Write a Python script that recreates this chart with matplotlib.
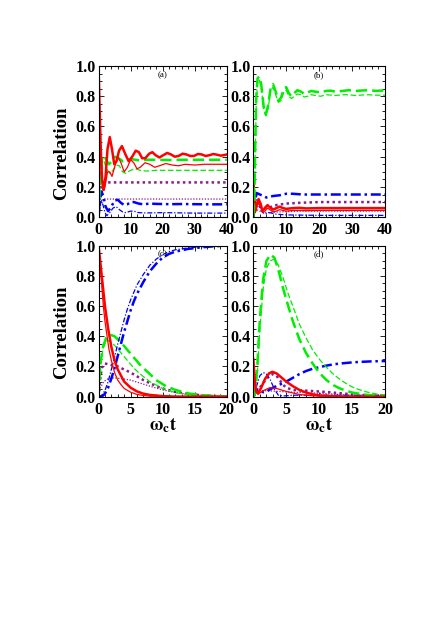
import matplotlib
matplotlib.use("Agg")
import matplotlib.pyplot as plt
from matplotlib.ticker import MultipleLocator

plt.rcParams['font.family'] = ['Liberation Serif', 'DejaVu Serif']
plt.rcParams['mathtext.fontset'] = 'stix'

RED = '#ff0000'
GREEN = '#00ee00'
PURPLE = '#8b1a8b'
BLUE = '#0000ff'

# ---- panel (a): t in [0, 40]
a_red_thick_t = [0, 0.3, 0.7, 1.1, 1.6, 2.2, 2.8, 3.5, 4.2, 4.9, 5.6, 6.4, 7.3, 8.3, 9.4, 10.5, 11.6, 12.6, 13.6,
                 14.6, 15.8, 16.8, 17.8, 19, 20.2, 21.4, 22.6, 23.8, 25, 26.2, 27.4, 28.6, 29.8, 31, 32.2, 33.4,
                 34.6, 35.8, 37, 38.2, 39.4, 40]
a_red_thick = [1.0, 0.75, 0.45, 0.25, 0.18, 0.27, 0.45, 0.53, 0.45, 0.35, 0.37, 0.44, 0.47, 0.42, 0.37, 0.40, 0.44,
               0.43, 0.39, 0.39, 0.42, 0.43, 0.41, 0.395, 0.41, 0.425, 0.415, 0.40, 0.405, 0.42, 0.415, 0.405,
               0.405, 0.418, 0.415, 0.405, 0.41, 0.418, 0.413, 0.407, 0.412, 0.415]
a_red_thin_t = [0, 0.4, 0.8, 1.3, 2, 2.8, 3.5, 4.2, 5, 6, 7, 8, 9, 10, 11, 12, 13, 14.5, 16, 17.5, 19, 21, 23, 25,
                27, 30, 33, 36, 40]
a_red_thin = [1.0, 0.6, 0.3, 0.18, 0.2, 0.3, 0.3, 0.27, 0.33, 0.40, 0.36, 0.30, 0.33, 0.38, 0.36, 0.32, 0.33, 0.36,
              0.35, 0.33, 0.34, 0.355, 0.345, 0.34, 0.35, 0.345, 0.35, 0.35, 0.35]
a_green_thick_t = [0, 0.3, 0.7, 1.2, 1.7, 2.4, 3.2, 4.2, 5.2, 6.3, 7.5, 8.7, 10, 11.5, 13, 15, 18, 22, 26, 30, 35, 40]
a_green_thick = [0, 0.15, 0.32, 0.40, 0.41, 0.38, 0.35, 0.37, 0.40, 0.39, 0.37, 0.375, 0.385, 0.38, 0.375, 0.38,
                 0.38, 0.378, 0.38, 0.38, 0.38, 0.38]
a_green_thin_t = [0, 0.3, 0.7, 1.2, 1.7, 2.5, 3.5, 4.5, 5.5, 6.5, 7.5, 8.5, 10, 11.5, 13, 15, 18, 22, 26, 30, 35, 40]
a_green_thin = [0, 0.12, 0.28, 0.36, 0.37, 0.32, 0.29, 0.31, 0.345, 0.34, 0.30, 0.29, 0.31, 0.32, 0.31, 0.305,
                0.31, 0.31, 0.31, 0.31, 0.31, 0.31]
a_purple_thick_t = [0, 0.3, 0.7, 1.2, 2, 40]
a_purple_thick = [0, 0.1, 0.2, 0.225, 0.23, 0.23]
a_purple_thin_t = [0, 0.4, 0.9, 1.5, 40]
a_purple_thin = [0, 0.06, 0.11, 0.12, 0.12]
a_blue_thick_t = [0, 0.4, 0.9, 1.5, 2.2, 3, 4, 5, 6, 7, 8, 9, 10, 11, 12.5, 14, 16, 18, 22, 26, 30, 35, 40]
a_blue_thick = [0, 0.1, 0.17, 0.14, 0.07, 0.04, 0.07, 0.11, 0.115, 0.095, 0.08, 0.085, 0.1, 0.1, 0.09, 0.085,
                0.09, 0.088, 0.086, 0.087, 0.086, 0.085, 0.085]
a_blue_thin_t = [0, 0.4, 0.9, 1.4, 2, 2.6, 3.5, 4.5, 5.5, 6.5, 7.5, 8.5, 10, 11, 12.5, 15, 20, 30, 40]
a_blue_thin = [0, 0.07, 0.11, 0.08, 0.03, 0.01, 0.03, 0.06, 0.07, 0.05, 0.035, 0.03, 0.04, 0.04, 0.03, 0.028,
               0.03, 0.027, 0.027]

# ---- panel (b): t in [0, 40]
b_green_t = [0, 0.3, 0.6, 0.9, 1.3, 1.8, 2.4, 3.2, 3.8, 4.5, 5.3, 6.0, 6.8, 7.6, 8.4, 9.3, 10, 10.8, 11.6, 12.4,
             13.4, 14.5, 15.5, 16.5, 17.5, 19, 20.5, 22, 23.5, 25, 27, 29, 31, 33, 35, 37, 40]
b_green_thick = [0, 0.1, 0.5, 0.8, 0.92, 0.93, 0.88, 0.72, 0.68, 0.74, 0.86, 0.88, 0.83, 0.77, 0.79, 0.85, 0.86,
                 0.82, 0.80, 0.82, 0.84, 0.83, 0.815, 0.825, 0.835, 0.83, 0.825, 0.835, 0.837, 0.83, 0.835, 0.84,
                 0.835, 0.838, 0.84, 0.836, 0.838]
b_green_thin = [0, 0.08, 0.45, 0.76, 0.89, 0.91, 0.86, 0.71, 0.67, 0.72, 0.84, 0.86, 0.81, 0.76, 0.77, 0.83, 0.84,
                0.80, 0.785, 0.80, 0.815, 0.81, 0.795, 0.80, 0.81, 0.805, 0.80, 0.81, 0.808, 0.805, 0.81, 0.81,
                0.805, 0.808, 0.81, 0.807, 0.807]
b_red_t = [0, 0.3, 0.6, 1, 1.6, 2.2, 2.8, 3.5, 4.3, 5, 6, 7, 8, 9, 10, 12, 14, 16, 20, 25, 30, 40]
b_red_thick = [0.25, 0.12, 0.05, 0.08, 0.12, 0.09, 0.04, 0.06, 0.08, 0.065, 0.05, 0.06, 0.07, 0.06, 0.055, 0.06,
               0.062, 0.058, 0.06, 0.06, 0.06, 0.06]
b_red_thin = [0.25, 0.1, 0.03, 0.06, 0.1, 0.07, 0.03, 0.04, 0.06, 0.05, 0.035, 0.04, 0.05, 0.045, 0.04, 0.045,
              0.045, 0.043, 0.045, 0.045, 0.045, 0.045]
b_blue_thick_t = [0, 0.5, 1, 2, 3, 4, 5, 6, 8, 10, 12, 15, 20, 25, 30, 35, 40]
b_blue_thick = [0, 0.1, 0.16, 0.15, 0.14, 0.13, 0.135, 0.14, 0.145, 0.155, 0.155, 0.15, 0.15, 0.15, 0.15, 0.15,
                0.15]
b_blue_thin_t = [0, 0.5, 1, 1.5, 2.5, 3.5, 5, 7, 10, 20, 40]
b_blue_thin = [0, 0.08, 0.12, 0.1, 0.04, 0.02, 0.03, 0.02, 0.015, 0.012, 0.012]
b_purple_thick_t = [0, 0.5, 1, 2, 3, 5, 7, 10, 14, 20, 30, 40]
b_purple_thick = [0, 0.06, 0.09, 0.07, 0.06, 0.065, 0.08, 0.09, 0.095, 0.1, 0.1, 0.1]
b_purple_thin_t = [0, 0.5, 1, 2, 4, 8, 15, 25, 40]
b_purple_thin = [0, 0.03, 0.05, 0.04, 0.03, 0.035, 0.04, 0.04, 0.04]

# ---- panel (c): t in [0, 20]
c_red_thin_t = [0, 0.25, 0.5, 0.75, 1, 1.3, 1.6, 2, 2.5, 3, 3.5, 4, 5, 6, 7, 8, 10, 12, 20]
c_red_thin = [1.0, 0.88, 0.74, 0.6, 0.5, 0.41, 0.32, 0.24, 0.16, 0.11, 0.08, 0.055, 0.03, 0.015, 0.008, 0.004,
              0.001, 0, 0]
c_red_thick_t = [0, 0.5, 1, 1.5, 2, 2.5, 3, 4, 5, 6, 7, 8, 10, 12, 20]
c_red_thick = [1.0, 0.8, 0.6, 0.45, 0.33, 0.24, 0.18, 0.1, 0.06, 0.035, 0.02, 0.012, 0.004, 0.001, 0]
c_blue_t = [0, 0.5, 1, 1.5, 2, 2.5, 3, 3.5, 4, 4.5, 5, 5.5, 6, 7, 8, 9, 10, 11, 12, 14, 16, 18, 20]
c_blue_thick = [0, 0.0, 0.02, 0.06, 0.12, 0.19, 0.27, 0.35, 0.43, 0.5, 0.57, 0.63, 0.68, 0.76, 0.83, 0.88, 0.92,
                0.945, 0.96, 0.978, 0.988, 0.995, 1.0]
c_blue_thin = [0, 0.01, 0.04, 0.1, 0.18, 0.26, 0.35, 0.43, 0.51, 0.58, 0.64, 0.69, 0.74, 0.81, 0.87, 0.91, 0.94,
               0.96, 0.972, 0.985, 0.992, 0.997, 1.0]
c_green_thick_t = [0, 0.3, 0.7, 1.2, 1.8, 2.5, 3.5, 4.5, 5.5, 6.5, 7.5, 9, 10.5, 12, 14, 16, 18, 20]
c_green_thick = [0, 0.22, 0.33, 0.39, 0.41, 0.4, 0.36, 0.31, 0.26, 0.21, 0.17, 0.11, 0.07, 0.045, 0.022, 0.011,
                 0.005, 0.002]
c_green_thin_t = [0, 0.3, 0.7, 1.2, 1.7, 2.5, 3.5, 4.5, 5.5, 6.5, 8, 10, 12, 14, 16, 18, 20]
c_green_thin = [0, 0.2, 0.32, 0.37, 0.37, 0.34, 0.29, 0.24, 0.19, 0.15, 0.1, 0.055, 0.028, 0.013, 0.006, 0.003,
                0.001]
c_purple_thick_t = [0, 0.2, 0.5, 1, 2, 3, 4, 5, 6, 7, 8, 9, 10, 12, 14, 16, 18, 20]
c_purple_thick = [0, 0.1, 0.19, 0.22, 0.21, 0.2, 0.18, 0.16, 0.135, 0.11, 0.09, 0.07, 0.055, 0.032, 0.018, 0.01,
                  0.005, 0.003]
c_purple_thin_t = [0, 0.3, 0.8, 1.5, 2.5, 3.5, 5, 6.5, 8, 10, 12, 14, 16, 18, 20]
c_purple_thin = [0, 0.06, 0.1, 0.12, 0.125, 0.12, 0.11, 0.09, 0.07, 0.045, 0.028, 0.016, 0.009, 0.005, 0.003]

# ---- panel (d): t in [0, 20]
d_green_t = [0, 0.3, 0.6, 1, 1.5, 2, 2.6, 3.2, 3.8, 4.5, 5.3, 6, 7, 8, 9, 10, 11, 12, 13, 14, 15, 16, 17, 18, 19,
             20]
d_green_thick = [0, 0.03, 0.2, 0.52, 0.78, 0.9, 0.94, 0.92, 0.84, 0.72, 0.6, 0.5, 0.38, 0.29, 0.22, 0.16, 0.115,
                 0.08, 0.058, 0.04, 0.028, 0.02, 0.014, 0.009, 0.006, 0.004]
d_green_thin = [0, 0.02, 0.15, 0.45, 0.72, 0.85, 0.9, 0.91, 0.87, 0.79, 0.68, 0.6, 0.48, 0.39, 0.31, 0.25, 0.2,
                0.155, 0.12, 0.09, 0.065, 0.048, 0.034, 0.024, 0.016, 0.012]
d_blue_thick_t = [0, 0.5, 1, 1.5, 2, 3, 4, 5, 6, 7, 8, 9, 10, 11, 12, 13, 14, 15, 16, 17, 18, 19, 20]
d_blue_thick = [0, 0.05, 0.04, 0.03, 0.035, 0.06, 0.08, 0.1, 0.125, 0.15, 0.17, 0.185, 0.195, 0.205, 0.213, 0.219,
                0.223, 0.227, 0.23, 0.232, 0.234, 0.235, 0.236]
d_blue_thin_t = [0, 0.5, 1, 1.5, 2, 2.6, 3.2, 3.8, 4.5, 6, 8, 20]
d_blue_thin = [0, 0.07, 0.14, 0.16, 0.15, 0.11, 0.05, 0.01, 0.005, 0.01, 0.01, 0.01]
d_red_thick_t = [0, 0.2, 0.4, 0.7, 1.2, 1.8, 2.4, 2.9, 3.5, 4.2, 5, 6, 7, 8, 9, 10, 12, 14, 20]
d_red_thick = [0.25, 0.12, 0.04, 0.02, 0.06, 0.12, 0.155, 0.165, 0.155, 0.13, 0.1, 0.07, 0.045, 0.028, 0.016,
               0.009, 0.003, 0.001, 0]
d_red_thin_t = [0, 0.2, 0.4, 0.8, 1.5, 2.5, 3.5, 5, 7, 9, 12, 20]
d_red_thin = [0.25, 0.1, 0.03, 0.02, 0.04, 0.06, 0.055, 0.035, 0.015, 0.006, 0.001, 0]
d_purple_thick_t = [0, 0.5, 1, 1.5, 2, 2.5, 3, 3.5, 4, 4.5, 5, 6, 8, 10, 12, 14, 16, 18, 20]
d_purple_thick = [0, 0.03, 0.06, 0.09, 0.12, 0.14, 0.15, 0.14, 0.11, 0.08, 0.06, 0.045, 0.04, 0.035, 0.028, 0.02,
                  0.013, 0.008, 0.005]
d_purple_thin_t = [0, 0.5, 1, 2, 4, 6, 9, 12, 15, 20]
d_purple_thin = [0, 0.03, 0.04, 0.04, 0.035, 0.03, 0.025, 0.018, 0.01, 0.004]

panel_labels = ['(a)', '(b)', '(c)', '(d)']

DASH = (0, (4.5, 2))
DOT = (0, (1, 1.3))
DASHDOT = (0, (4, 1.5, 1, 1.5))


def draw(ax, t, y, color, style, thick):
    ax.plot(t, y, color=color, linestyle=style, lw=1.8 if thick else 0.9, clip_on=True)


fig = plt.figure(figsize=(4.36, 6.17), dpi=100)
positions = [[0.226, 0.648, 0.294, 0.245], [0.581, 0.648, 0.302, 0.245],
             [0.226, 0.357, 0.294, 0.245], [0.581, 0.357, 0.302, 0.245]]
axes = [fig.add_axes(p) for p in positions]
ax_a, ax_b, ax_c, ax_d = axes

draw(ax_a, a_purple_thick_t, a_purple_thick, PURPLE, DOT, True)
draw(ax_a, a_purple_thin_t, a_purple_thin, PURPLE, DOT, False)
draw(ax_a, a_blue_thick_t, a_blue_thick, BLUE, DASHDOT, True)
draw(ax_a, a_blue_thin_t, a_blue_thin, BLUE, DASHDOT, False)
draw(ax_a, a_green_thick_t, a_green_thick, GREEN, DASH, True)
draw(ax_a, a_green_thin_t, a_green_thin, GREEN, DASH, False)
draw(ax_a, a_red_thick_t, a_red_thick, RED, '-', True)
draw(ax_a, a_red_thin_t, a_red_thin, RED, '-', False)

draw(ax_b, b_purple_thick_t, b_purple_thick, PURPLE, DOT, True)
draw(ax_b, b_purple_thin_t, b_purple_thin, PURPLE, DOT, False)
draw(ax_b, b_blue_thick_t, b_blue_thick, BLUE, DASHDOT, True)
draw(ax_b, b_blue_thin_t, b_blue_thin, BLUE, DASHDOT, False)
draw(ax_b, b_red_t, b_red_thick, RED, '-', True)
draw(ax_b, b_red_t, b_red_thin, RED, '-', False)
draw(ax_b, b_green_t, b_green_thick, GREEN, DASH, True)
draw(ax_b, b_green_t, b_green_thin, GREEN, DASH, False)

draw(ax_c, c_purple_thick_t, c_purple_thick, PURPLE, DOT, True)
draw(ax_c, c_purple_thin_t, c_purple_thin, PURPLE, DOT, False)
draw(ax_c, c_green_thick_t, c_green_thick, GREEN, DASH, True)
draw(ax_c, c_green_thin_t, c_green_thin, GREEN, DASH, False)
draw(ax_c, c_blue_t, c_blue_thick, BLUE, DASHDOT, True)
draw(ax_c, c_blue_t, c_blue_thin, BLUE, DASHDOT, False)
draw(ax_c, c_red_thick_t, c_red_thick, RED, '-', True)
draw(ax_c, c_red_thin_t, c_red_thin, RED, '-', False)

draw(ax_d, d_purple_thick_t, d_purple_thick, PURPLE, DOT, True)
draw(ax_d, d_purple_thin_t, d_purple_thin, PURPLE, DOT, False)
draw(ax_d, d_blue_thick_t, d_blue_thick, BLUE, DASHDOT, True)
draw(ax_d, d_blue_thin_t, d_blue_thin, BLUE, DASHDOT, False)
draw(ax_d, d_green_t, d_green_thick, GREEN, DASH, True)
draw(ax_d, d_green_t, d_green_thin, GREEN, DASH, False)
draw(ax_d, d_red_thick_t, d_red_thick, RED, '-', True)
draw(ax_d, d_red_thin_t, d_red_thin, RED, '-', False)

for i, ax in enumerate(axes):
    top = i < 2
    ax.set_xlim(0, 40 if top else 20)
    ax.set_ylim(0, 1.0)
    ax.xaxis.set_major_locator(MultipleLocator(10 if top else 5))
    ax.xaxis.set_minor_locator(MultipleLocator(2 if top else 1))
    ax.yaxis.set_major_locator(MultipleLocator(0.2))
    ax.yaxis.set_minor_locator(MultipleLocator(0.05))
    ax.tick_params(which='both', direction='in', top=True, right=True, labelsize=11.5, width=0.6)
    ax.tick_params(axis='y', pad=2)
    ax.tick_params(axis='x', pad=3.5)
    ax.tick_params(which='major', length=3.5)
    ax.tick_params(which='minor', length=2)
    for lab in ax.get_xticklabels() + ax.get_yticklabels():
        lab.set_fontweight('bold')
    for sp in ax.spines.values():
        sp.set_linewidth(0.8)
    ax.text(0.5, 0.94, panel_labels[i], transform=ax.transAxes, ha='center', va='center', fontsize=6.5)
    if i % 2 == 0:
        ax.set_ylabel('Correlation', fontsize=13.5, fontweight='bold')
        ax.yaxis.set_label_coords(-0.225, 0.425)
    if not top:
        ax.set_xlabel(r'$\mathbf{\omega_c t}$', fontsize=13, labelpad=-1)

fig.savefig('out.png', dpi=100)
